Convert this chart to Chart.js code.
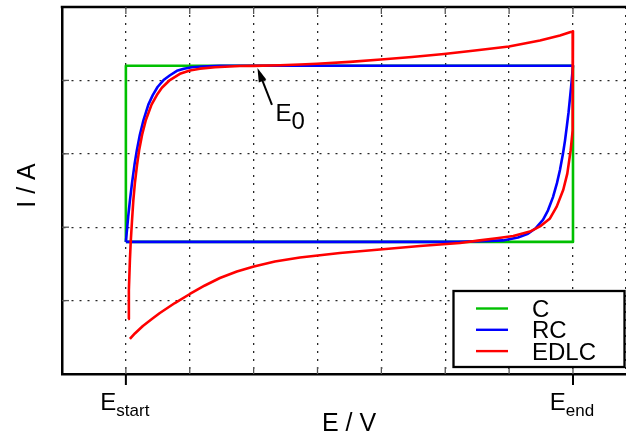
<!DOCTYPE html>
<html>
<head>
<meta charset="utf-8">
<script src="https://cdn.jsdelivr.net/npm/chart.js@4.4.0/dist/chart.umd.min.js"></script>
<style>
  html, body { margin: 0; padding: 0; background: #fff; }
  #wrap { width: 626px; height: 436px; }
</style>
</head>
<body>
<div id="wrap"><canvas id="cv" width="626" height="436"></canvas></div>
<script>
// potential in grid steps: E_start = 0, E_end = 7; current in grid steps, 0..5
const cE = [0, 0, 7, 7, 0];
const cI = [1.8, 4.2, 4.2, 1.8, 1.8];

// RC: charging branch, then discharge branch back from E_end
const rcE = [0, 0.036, 0.064, 0.096, 0.135, 0.172, 0.219, 0.276, 0.352, 0.421, 0.496, 0.590, 0.691, 0.799,
  0.908, 1.034, 1.190, 1.472, 7.0,
  6.977, 6.953, 6.930, 6.906, 6.875, 6.843, 6.796, 6.749, 6.687, 6.609, 6.530, 6.421, 6.295, 6.139,
  5.904, 5.591, 5.199, 0];
const rcI = [1.80, 2.14, 2.37, 2.60, 2.85, 3.05, 3.26, 3.46, 3.67, 3.80, 3.91, 4.005, 4.07, 4.13,
  4.16, 4.18, 4.19, 4.20, 4.20,
  3.97, 3.76, 3.56, 3.39, 3.18, 3.00, 2.78, 2.60, 2.41, 2.23, 2.10, 1.99, 1.91, 1.86,
  1.82, 1.81, 1.80, 1.80];

// EDLC: forward sweep, then reverse sweep
const edlcE = [0.036, 0.047, 0.063, 0.075, 0.094, 0.117, 0.141, 0.175, 0.208, 0.254, 0.313, 0.402, 0.485,
  0.564, 0.689, 0.846, 1.002, 1.159, 1.394, 1.785, 2.004, 2.412, 2.725, 2.991, 3.508, 3.993, 4.479,
  4.980, 5.465, 5.997, 6.483, 6.796, 7.0,
  6.995, 6.964, 6.911, 6.848, 6.745, 6.640, 6.483, 6.326, 6.065, 5.805, 5.543, 5.230, 4.604, 3.977,
  3.351, 2.725, 2.333, 2.004, 1.738, 1.472, 1.237, 1.002, 0.767, 0.532, 0.407, 0.266, 0.141, 0.063];
const edlcI = [0.75, 1.14, 1.55, 1.785, 2.06, 2.37, 2.60, 2.85, 3.05, 3.26, 3.46, 3.67, 3.80,
  3.90, 4.005, 4.09, 4.135, 4.16, 4.18, 4.196, 4.198, 4.207, 4.217, 4.226, 4.253, 4.285, 4.319,
  4.36, 4.407, 4.462, 4.544, 4.612, 4.67,
  3.32, 3.05, 2.73, 2.51, 2.28, 2.12, 2.01, 1.94, 1.88, 1.85, 1.82, 1.785, 1.744, 1.696,
  1.649, 1.587, 1.533, 1.465, 1.396, 1.308, 1.206, 1.09, 0.967, 0.831, 0.749, 0.654, 0.552, 0.477];

const seriesNames = ['C', 'RC', 'EDLC'];
const seriesColors = ['#00c000', '#0000ff', '#ff0000'];
const xTickLabels = [{ at: 0, main: 'E', sub: 'start' }, { at: 7, main: 'E', sub: 'end' }];
const e0Mark = { x: 2.06, y: 4.17 };

const FONT = '"Liberation Sans", Arial, Helvetica, sans-serif';
const pts = (xs, ys) => xs.map((v, i) => ({ x: v, y: ys[i] }));

function seg(ctx, x1, y1, x2, y2) {
  ctx.beginPath(); ctx.moveTo(x1, y1); ctx.lineTo(x2, y2); ctx.stroke();
}

// main text followed by a lowered subscript, centred on cx
function subText(ctx, main, sub, cx, base, size, subSize, drop) {
  ctx.font = size + 'px ' + FONT;
  const w1 = ctx.measureText(main).width;
  ctx.font = subSize + 'px ' + FONT;
  const w2 = ctx.measureText(sub).width;
  let x0 = cx - (w1 + w2) / 2;
  ctx.textAlign = 'left';
  ctx.textBaseline = 'alphabetic';
  ctx.font = size + 'px ' + FONT;
  ctx.fillText(main, x0, base);
  ctx.font = subSize + 'px ' + FONT;
  ctx.fillText(sub, x0 + w1, base + drop);
}

const decor = {
  id: 'decor',
  afterDraw(chart) {
    const { ctx, chartArea: a, scales: { x, y } } = chart;
    ctx.save();
    ctx.fillStyle = '#000';

    // top frame
    ctx.strokeStyle = '#000';
    ctx.lineWidth = 2.5;
    seg(ctx, a.left - 1.25, a.top, a.right, a.top);

    // short inner ticks
    ctx.strokeStyle = '#555';
    ctx.lineWidth = 1.3;
    for (let v = 0; v <= 7; v++) {
      const px = x.getPixelForValue(v);
      seg(ctx, px, a.top, px, a.top + 7);
      seg(ctx, px, a.bottom, px, a.bottom - 7);
    }
    for (let v = 1; v <= 4; v++) {
      const py = y.getPixelForValue(v);
      seg(ctx, a.left, py, a.left + 7, py);
    }

    // labelled ticks below the axis
    ctx.strokeStyle = '#000';
    ctx.lineWidth = 2;
    xTickLabels.forEach(t => {
      const px = x.getPixelForValue(t.at);
      seg(ctx, px, a.bottom, px, a.bottom + 11);
      subText(ctx, t.main, t.sub, px - 1, a.bottom + 36, 24, 17, 6);
    });

    // axis titles
    ctx.font = '25px ' + FONT;
    ctx.textAlign = 'center';
    ctx.textBaseline = 'alphabetic';
    ctx.fillText('E / V', 349, 431);
    ctx.save();
    ctx.translate(35, (a.top + a.bottom) / 2 - 5);
    ctx.rotate(-Math.PI / 2);
    ctx.fillText('I / A', 0, 0);
    ctx.restore();

    // E0 arrow
    const tx = x.getPixelForValue(e0Mark.x), ty = y.getPixelForValue(e0Mark.y);
    const sx = tx + 14.5, sy = ty + 37;
    const ang = Math.atan2(ty - sy, tx - sx);
    ctx.lineWidth = 2;
    seg(ctx, sx, sy, tx + Math.cos(ang) * -8, ty + Math.sin(ang) * -8);
    ctx.beginPath();
    ctx.moveTo(tx, ty);
    ctx.lineTo(tx - 14 * Math.cos(ang) + 4 * Math.sin(ang), ty - 14 * Math.sin(ang) - 4 * Math.cos(ang));
    ctx.lineTo(tx - 14 * Math.cos(ang) - 4 * Math.sin(ang), ty - 14 * Math.sin(ang) + 4 * Math.cos(ang));
    ctx.closePath();
    ctx.fill();
    ctx.font = '24px ' + FONT;
    ctx.textAlign = 'left';
    ctx.fillText('E', tx + 18, ty + 53);
    ctx.fillText('0', tx + 34, ty + 61);

    // legend box
    const bx = 453.5, by = 291, bw = 171, bh = 76;
    ctx.fillStyle = '#fff';
    ctx.fillRect(bx, by, bw, bh);
    ctx.strokeStyle = '#000';
    ctx.lineWidth = 2.3;
    ctx.strokeRect(bx, by, bw, bh);
    ctx.font = '24px ' + FONT;
    ctx.textAlign = 'left';
    ctx.fillStyle = '#000';
    seriesNames.forEach((n, i) => {
      const ly = 308.5 + i * 21.3;
      ctx.strokeStyle = seriesColors[i];
      ctx.lineWidth = 2.4;
      seg(ctx, 476, ly, 508, ly);
      ctx.fillText(n, 532, ly + 8.5);
    });
    ctx.restore();
  }
};

const data = [pts(cE, cI), pts(rcE, rcI), pts(edlcE, edlcI)];

new Chart(document.getElementById('cv'), {
  type: 'scatter',
  data: {
    datasets: seriesNames.map((n, i) => ({
      label: n,
      data: data[i],
      showLine: true,
      borderColor: seriesColors[i],
      backgroundColor: seriesColors[i],
      borderWidth: 2.6,
      borderJoinStyle: 'round',
      pointRadius: 0,
      tension: 0,
      fill: false,
      order: 3 - i
    }))
  },
  options: {
    responsive: false,
    devicePixelRatio: 1,
    animation: false,
    layout: { padding: { left: 62, top: 7, right: 0, bottom: 62 } },
    plugins: { legend: { display: false }, tooltip: { enabled: false } },
    scales: {
      x: {
        type: 'linear', min: -1, max: 7.83,
        ticks: { display: false, stepSize: 1 },
        grid: { color: 'rgba(0,0,0,0.85)', lineWidth: 1.3, drawTicks: false },
        border: { display: true, color: '#000', width: 2.5, dash: [2, 6] }
      },
      y: {
        type: 'linear', min: 0, max: 5,
        ticks: { display: false, stepSize: 1 },
        grid: { color: 'rgba(0,0,0,0.85)', lineWidth: 1.3, drawTicks: false },
        border: { display: true, color: '#000', width: 2.5, dash: [2, 6] }
      }
    }
  },
  plugins: [decor]
});
</script>
</body>
</html>
